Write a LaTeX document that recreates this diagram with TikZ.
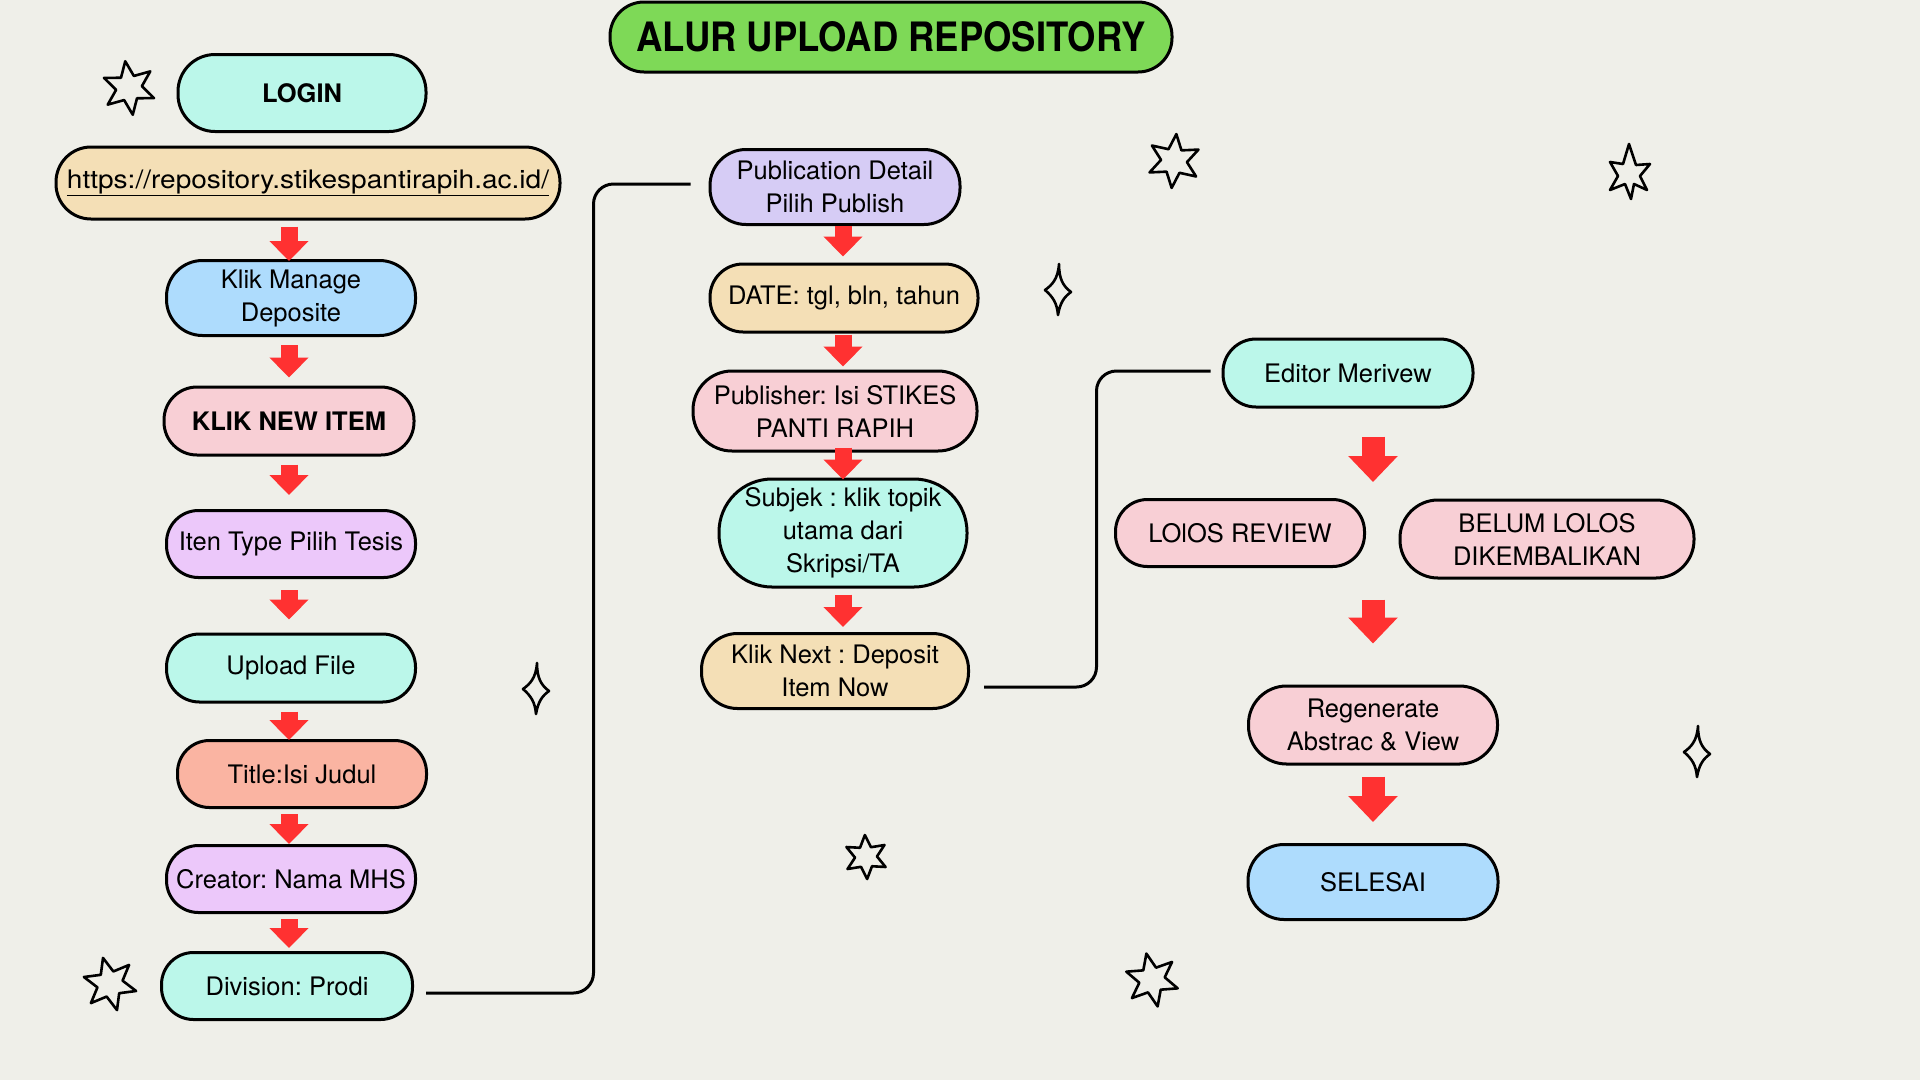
\documentclass[tikz,border=0pt]{standalone}
\usepackage{fontspec}
\setmainfont{TeX Gyre Heros}
\newfontfamily\titlefont{TeX Gyre Heros}[FakeStretch=0.9]
\newfontfamily\urlfont{TeX Gyre Heros}[FakeStretch=1.1]
\usetikzlibrary{arrows.meta,calc}
\definecolor{bg}{RGB}{239,239,233}
\definecolor{mint}{RGB}{187,247,234}
\definecolor{beige}{RGB}{244,223,182}
\definecolor{skyb}{RGB}{174,220,253}
\definecolor{pinkc}{RGB}{248,207,213}
\definecolor{lav}{RGB}{236,200,250}
\definecolor{violetc}{RGB}{214,204,245}
\definecolor{salmon}{RGB}{250,180,162}
\definecolor{greenc}{RGB}{126,217,87}
\definecolor{redc}{RGB}{255,49,49}
\newcommand\mystar[5]{%
 \draw[starl,shift={(#1,#2)},rotate=#5] (90:#3) -- (120:#4) -- (150:#3) -- (180:#4) -- (210:#3) -- (240:#4) -- (270:#3) -- (300:#4) -- (330:#3) -- (0:#4) -- (30:#3) -- (60:#4) -- cycle;}
\newcommand\mysparkle[3]{%
 \draw[starl,shift={(#1,#2)},scale=#3] (1,-27) .. controls (1,-12) and (5,-5) .. (13,1) .. controls (6,6) and (2,12) .. (0,24) .. controls (-1,12) and (-5,6) .. (-13,-1) .. controls (-6,-6) and (0,-12) .. (1,-27) -- cycle;}
\frenchspacing
\begin{document}
\begin{tikzpicture}[x=1pt,y=-1pt,
  pill/.style n args={4}{rectangle, draw=black, line width=3pt, fill=#4, align=center,
     font=\fontsize{25.5}{33}\selectfont\frenchspacing, inner sep=0pt,
     minimum width=#1pt, minimum height=#2pt, rounded corners=#3pt},
  redsmall/.style={draw=redc, line width=17pt, -{Triangle[width=38pt,length=20pt]}, redc},
  redbig/.style={draw=redc, line width=23pt, -{Triangle[width=48pt,length=26pt]}, redc},
  conn/.style={draw=black, line width=3pt, rounded corners=20pt},
  starl/.style={draw=black, line width=2.6pt, line join=round}]
\fill[bg] (0,0) rectangle (1920,1080);
\useasboundingbox (0,0) rectangle (1920,1080);

% title
\node[pill={562}{70}{34}{greenc}, font=\titlefont\bfseries\fontsize{40.5}{40}\selectfont] (ttl) at (891,37) {ALUR UPLOAD REPOSITORY};

% left column
\node[pill={248}{77}{37}{mint}, font=\bfseries\fontsize{25.5}{33}\selectfont] (login) at (302,93) {LOGIN};
\node[pill={504}{72}{35}{beige}, font=\urlfont\fontsize{25.5}{33}\selectfont] (url) at (308,183) {\underline{https://repository.stikespantirapih.ac.id/}};
\node[pill={249}{75}{36}{skyb}] (manage) at (291,298) {Klik Manage\\Deposite};
\node[pill={250}{68}{33}{pinkc}, font=\bfseries\fontsize{25.5}{33}\selectfont] (newitem) at (289,421) {KLIK NEW ITEM};
\node[pill={249}{67}{32}{lav}] (itype) at (291,544) {Iten Type Pilih Tesis};
\node[pill={249}{68}{33}{mint}] (upload) at (291,668) {Upload File};
\node[pill={249}{67}{32}{salmon}] (ttlisi) at (302,774) {Title:Isi Judul};
\node[pill={249}{67}{32}{lav}] (creator) at (291,879) {Creator: Nama MHS};
\node[pill={251}{67}{32}{mint}] (division) at (287,986) {Division: Prodi};

% middle column
\node[pill={250}{75}{36}{violetc}] (pub) at (835,187) {Publication Detail\\Pilih Publish};
\node[pill={268}{68}{33}{beige}] (date) at (844,298) {DATE: tgl, bln, tahun};
\node[pill={284}{80}{39}{pinkc}] (publisher) at (835,411) {Publisher: Isi STIKES\\PANTI RAPIH};
\node[pill={248}{108}{53}{mint}] (subjek) at (843,533) {Subjek : klik topik\\utama dari\\Skripsi/TA};
\node[pill={267}{75}{36}{beige}] (next) at (835,671) {Klik Next : Deposit\\Item Now};

% right column
\node[pill={250}{68}{33}{mint}] (editor) at (1348,373) {Editor Merivew};
\node[pill={249}{67}{32}{pinkc}] (lolos) at (1240,533) {LOlOS REVIEW};
\node[pill={294}{78}{38}{pinkc}] (belum) at (1547,539) {BELUM LOLOS\\DIKEMBALIKAN};
\node[pill={249}{78}{38}{pinkc}] (regen) at (1373,725) {Regenerate\\Abstrac \& View};
\node[pill={250}{75}{36}{skyb}] (selesai) at (1373,882) {SELESAI};

% column coordinates for arrows
\coordinate (lx) at (289,0);
\coordinate (mx) at (843,0);
\coordinate (rx) at (1373,0);

% red arrows left
\draw[redsmall] ($(lx |- url.south)+(0,6)$) -- ($(lx |- manage.north)+(0,2)$);
\draw[redsmall] ($(lx |- manage.south)+(0,8)$) -- ($(lx |- newitem.north)+(0,-8)$);
\draw[redsmall] ($(lx |- newitem.south)+(0,8)$) -- ($(lx |- itype.north)+(0,-14)$);
\draw[redsmall] ($(lx |- itype.south)+(0,11)$) -- ($(lx |- upload.north)+(0,-13)$);
\draw[redsmall] ($(lx |- upload.south)+(0,8)$) -- ($(lx |- ttlisi.north)+(0,1)$);
\draw[redsmall] ($(lx |- ttlisi.south)+(0,5)$) -- ($(lx |- creator.north)+(0,0)$);
\draw[redsmall] ($(lx |- creator.south)+(0,5)$) -- ($(lx |- division.north)+(0,-3)$);

% red arrows middle
\draw[redsmall] ($(mx |- pub.south)+(0,0)$) -- ($(mx |- date.north)+(0,-6)$);
\draw[redsmall] ($(mx |- date.south)+(0,1)$) -- ($(mx |- publisher.north)+(0,-3)$);
\draw[redsmall] ($(mx |- publisher.south)+(0,-5)$) -- ($(mx |- subjek.north)+(0,2)$);
\draw[redsmall] ($(mx |- subjek.south)+(0,6)$) -- ($(mx |- next.north)+(0,-5)$);

% red arrows right
\draw[redbig] ($(rx |- editor.south)+(0,28)$) -- ($(rx |- lolos.north)+(0,-16)$);
\draw[redbig] ($(rx |- belum.south)+(0,20)$) -- ($(rx |- regen.north)+(0,-41)$);
\draw[redbig] ($(rx |- regen.south)+(0,11)$) -- ($(rx |- selesai.north)+(0,-21)$);

% connectors
\draw[conn] ($(division.east)+(12,7)$) -| ($(pub.west)+(-115,-3)$) -- ($(pub.west)+(-18,-3)$);
\draw[conn] ($(next.east)+(14,16)$) -| ($(editor.west)+(-125,-2)$) -- ($(editor.west)+(-11,-2)$);

% decorations
\mystar{129}{88}{27}{13}{8}
\mystar{1174}{161}{27}{13}{-5}
\mystar{866}{857}{22}{11}{3}
\mystar{1152}{980}{27}{13}{12}
\mystar{110}{984}{27}{13}{15}
\draw[starl] (1629,144) -- (1636,165) -- (1650,164) -- (1640,176) -- (1647,190) -- (1634,184) -- (1631,199) -- (1625,184) -- (1610,190) -- (1618,176) -- (1610,162) -- (1623,164) -- cycle;
\mysparkle{1058}{291}{1}
\mysparkle{536}{690}{1}
\mysparkle{1697}{753}{1}
\end{tikzpicture}
\end{document}
